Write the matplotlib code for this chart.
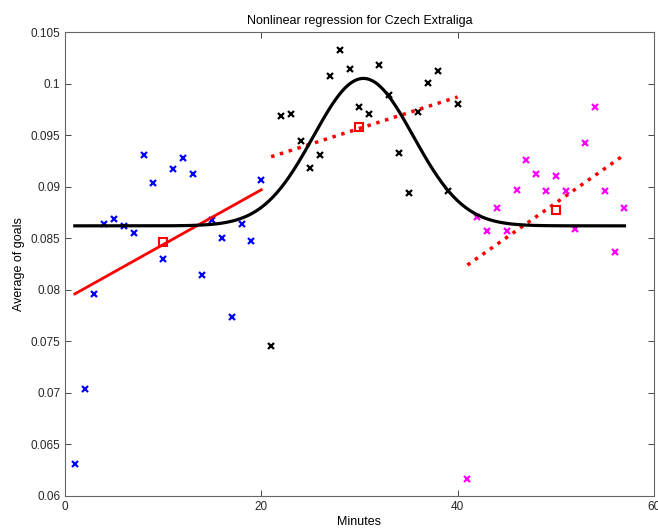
import numpy as np
import matplotlib.pyplot as plt
from matplotlib.ticker import FormatStrFormatter

plt.rcParams['font.family'] = ['Liberation Sans', 'DejaVu Sans']

# observed averages per minute
min_blue = list(range(1, 21))
avg_blue = [0.0631, 0.0704, 0.0796, 0.0864, 0.0869, 0.0862, 0.0855, 0.0931, 0.0904, 0.0830,
            0.0917, 0.0928, 0.0912, 0.0814, 0.0868, 0.0850, 0.0774, 0.0864, 0.0847, 0.0906]
min_black = list(range(21, 41))
avg_black = [0.0745, 0.0969, 0.0970, 0.0944, 0.0918, 0.0931, 0.1007, 0.1033, 0.1014, 0.0977,
             0.0970, 0.1018, 0.0989, 0.0933, 0.0894, 0.0972, 0.1001, 0.1012, 0.0896, 0.0980]
min_mag = list(range(41, 58))
avg_mag = [0.0616, 0.0871, 0.0857, 0.0879, 0.0857, 0.0897, 0.0926, 0.0912, 0.0896, 0.0910,
           0.0896, 0.0859, 0.0942, 0.0977, 0.0896, 0.0837, 0.0879]

# linear fits per period (endpoints) and their centre points
lin1_x, lin1_y = [1, 20], [0.0796, 0.0897]
lin2_x, lin2_y = [21, 40], [0.0929, 0.0987]
lin3_x, lin3_y = [41, 57], [0.0824, 0.0931]
sq_x = [10, 30, 50]
sq_y = [0.0846, 0.0958, 0.0877]

# gaussian fit parameters
base, peak, mu, sigma = 0.0862, 0.1005, 30.4, 5.1

fig = plt.figure(figsize=(6.58, 5.29), dpi=100)
ax = fig.add_axes([0.0988, 0.0624, 0.895, 0.8771])

ax.plot(min_blue, avg_blue, 'x', color='blue', ms=5, mew=1.6)
ax.plot(min_black, avg_black, 'x', color='black', ms=5, mew=1.6)
ax.plot(min_mag, avg_mag, 'x', color='magenta', ms=5, mew=1.6)

ax.plot(lin1_x, lin1_y, '-', color='red', lw=2)
ax.plot(lin2_x, lin2_y, ':', color='red', lw=2.5)
ax.plot(lin3_x, lin3_y, ':', color='red', lw=2.5)
ax.plot(sq_x, sq_y, 's', color='red', mfc='none', ms=6, mew=1.5)

xs = np.linspace(1, 57, 400)
ax.plot(xs, base + (peak - base) * np.exp(-(xs - mu) ** 2 / (2 * sigma ** 2)), '-', color='black', lw=2.3)

ax.set_xlim(0, 60)
ax.set_ylim(0.06, 0.105)
ax.set_xticks([0, 20, 40, 60])
ax.set_yticks(np.arange(0.06, 0.1051, 0.005))
ax.yaxis.set_major_formatter(FormatStrFormatter('%g'))
ax.tick_params(direction='in', top=True, right=True, labelsize=8.5, colors='0.15', length=4, width=0.6)
for s in ax.spines.values():
    s.set_color('0.4')
    s.set_linewidth(0.8)

ax.set_title("Nonlinear regression for Czech Extraliga", fontsize=9, pad=6)
ax.set_xlabel("Minutes", fontsize=9, labelpad=2)
ax.set_ylabel("Average of goals", fontsize=9, labelpad=4)

fig.savefig("out.png", dpi=100)
